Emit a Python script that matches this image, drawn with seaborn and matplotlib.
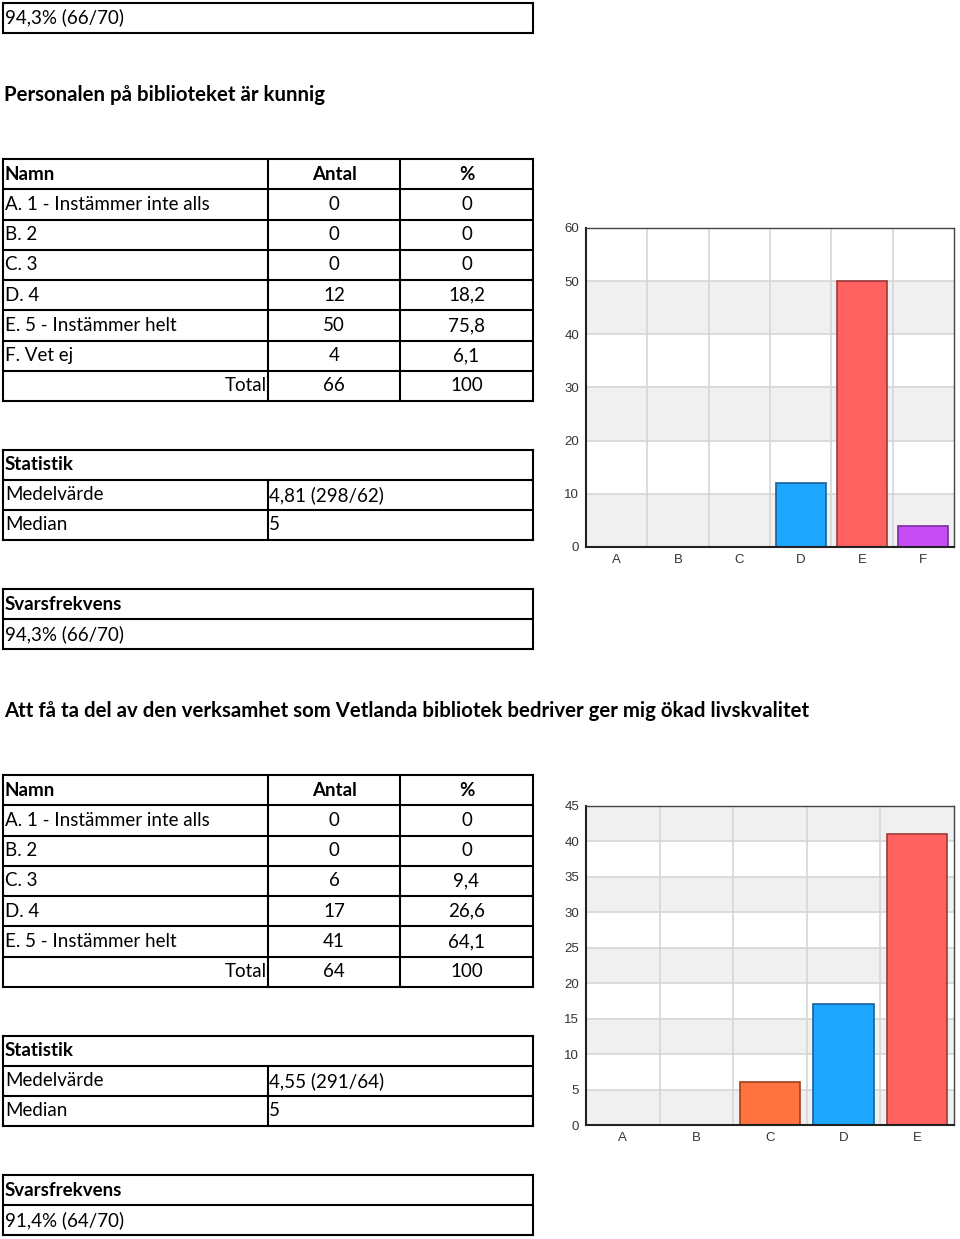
import matplotlib
matplotlib.use("Agg")
import matplotlib.pyplot as plt
import seaborn as sns
import numpy as np
import pandas as pd

# ---------------- data ----------------
top_rate = "94,3% (66/70)"

q1_title = "Personalen på biblioteket är kunnig"
q1_names = ["A. 1 - Instämmer inte alls", "B. 2", "C. 3", "D. 4", "E. 5 - Instämmer helt", "F. Vet ej"]
q1_counts = [0, 0, 0, 12, 50, 4]
q1_pct = ["0", "0", "0", "18,2", "75,8", "6,1"]
q1_total = ["66", "100"]
q1_mean = "4,81 (298/62)"
q1_median = "5"
q1_rate = "94,3% (66/70)"
q1_cats = ["A", "B", "C", "D", "E", "F"]
q1_colors = ["#ff7340", "#ff7340", "#ff7340", "#1ea7ff", "#ff6060", "#c64cf5"]
q1_edges = ["#a04020", "#a04020", "#a04020", "#1a5f9a", "#a03838", "#7a2ca0"]
q1_yticks = [0, 10, 20, 30, 40, 50, 60]

q2_title = "Att få ta del av den verksamhet som Vetlanda bibliotek bedriver ger mig ökad livskvalitet"
q2_names = ["A. 1 - Instämmer inte alls", "B. 2", "C. 3", "D. 4", "E. 5 - Instämmer helt"]
q2_counts = [0, 0, 6, 17, 41]
q2_pct = ["0", "0", "9,4", "26,6", "64,1"]
q2_total = ["64", "100"]
q2_mean = "4,55 (291/64)"
q2_median = "5"
q2_rate = "91,4% (64/70)"
q2_cats = ["A", "B", "C", "D", "E"]
q2_colors = ["#ff7340", "#ff7340", "#ff7340", "#1ea7ff", "#ff6060"]
q2_edges = ["#a04020", "#a04020", "#a04020", "#1a5f9a", "#a03838"]
q2_yticks = [0, 5, 10, 15, 20, 25, 30, 35, 40, 45]

# ---------------- figure ----------------
W, H = 960, 1239
sns.set_style("white")
plt.rcParams['font.family'] = ['Lato', 'DejaVu Sans']
fig = plt.figure(figsize=(W / 100, H / 100), dpi=100)
bg = fig.add_axes([0, 0, 1, 1])
bg.set_xlim(0, W)
bg.set_ylim(H, 0)
bg.axis("off")

FS = 13.5
TFS = 14.7
LW = 1.5
X0, X1, C1, C2 = 3, 533, 268, 400
NAMEX = 5


def hline(y, x0=X0, x1=X1):
    bg.plot([x0, x1], [y, y], color="black", lw=LW, solid_capstyle="projecting")


def vline(x, y0, y1):
    bg.plot([x, x], [y0, y1], color="black", lw=LW, solid_capstyle="projecting")


def txt(x, y, s, ha="left", bold=False, size=FS):
    bg.text(x, y, s, ha=ha, va="center", fontsize=size,
            fontweight="bold" if bold else "normal", color="black")


def box_rows(y0, y1, n):
    ys = np.linspace(y0, y1, n + 1)
    for y in ys:
        hline(y)
    vline(X0, y0, y1)
    vline(X1, y0, y1)
    return ys


def rate_table(y0, rate):
    ys = box_rows(y0, y0 + 60, 2)
    txt(NAMEX, (ys[0] + ys[1]) / 2, "Svarsfrekvens", bold=True)
    txt(NAMEX, (ys[1] + ys[2]) / 2, rate)


def main_table(y0, y1, names, counts, pcts, total):
    n = len(names) + 2
    ys = box_rows(y0, y1, n)
    vline(C1, y0, y1)
    vline(C2, y0, y1)
    mids = (ys[:-1] + ys[1:]) / 2
    txt(NAMEX, mids[0], "Namn", bold=True)
    txt((C1 + C2) / 2, mids[0], "Antal", ha="center", bold=True)
    txt((C2 + X1) / 2, mids[0], "%", ha="center", bold=True)
    for i, (nm, c, p) in enumerate(zip(names, counts, pcts)):
        txt(NAMEX, mids[i + 1], nm)
        txt((C1 + C2) / 2, mids[i + 1], str(c), ha="center")
        txt((C2 + X1) / 2, mids[i + 1], p, ha="center")
    txt(C1 - 1, mids[-1], "Total", ha="right")
    txt((C1 + C2) / 2, mids[-1], total[0], ha="center")
    txt((C2 + X1) / 2, mids[-1], total[1], ha="center")


def stat_table(y0, mean, median):
    ys = box_rows(y0, y0 + 90, 3)
    vline(C1, ys[1], ys[3])
    mids = (ys[:-1] + ys[1:]) / 2
    txt(NAMEX, mids[0], "Statistik", bold=True)
    txt(NAMEX, mids[1], "Medelvärde")
    txt(C1 + 1, mids[1], mean)
    txt(NAMEX, mids[2], "Median")
    txt(C1 + 1, mids[2], median)


def bar_chart(box, cats, counts, colors, edges, yticks):
    l, t, r, b = box
    ax = fig.add_axes([l / W, 1 - b / H, (r - l) / W, (b - t) / H])
    n = len(cats)
    df = pd.DataFrame({"cat": cats, "count": counts})
    ymax = yticks[-1]
    sns.barplot(data=df, x="cat", y="count", hue="cat", palette=colors,
                width=0.82, legend=False, ax=ax, zorder=2, saturation=1)
    for cont in ax.containers:
        for bar in cont:
            idx = int(round(bar.get_x() + bar.get_width() / 2))
            bar.set_edgecolor(edges[idx])
            bar.set_linewidth(1.2 if counts[idx] > 0 else 0)
    # alternating background bands
    for i in range(len(yticks) - 1):
        if i % 2 == 0:
            ax.axhspan(yticks[i], yticks[i + 1], color="#f0f0f0", zorder=0, lw=0)
    for y in yticks[1:-1]:
        ax.axhline(y, color="#d6d6d6", lw=1.2, zorder=0.5)
    for i in range(n - 1):
        ax.axvline(i + 0.5, color="#d6d6d6", lw=1.2, zorder=0.5)
    ax.set_xlim(-0.5, n - 0.5)
    ax.set_ylim(0, ymax)
    ax.set_yticks(yticks)
    ax.set_xticks(range(n))
    ax.set_xticklabels(cats)
    ax.set_xticks([i + 0.5 for i in range(n - 1)], minor=True)
    ax.tick_params(axis="x", which="major", length=0, pad=5,
                   labelsize=9.5, labelcolor="#333333")
    ax.tick_params(axis="x", which="minor", length=3, width=1.2, color="#333333")
    ax.tick_params(axis="y", length=3, width=1.0, color="#333333", pad=2,
                   labelsize=9.5, labelcolor="#333333")
    for lab in ax.get_xticklabels() + ax.get_yticklabels():
        lab.set_family("Liberation Sans")
    ax.set_xlabel("")
    ax.set_ylabel("")
    for s in ax.spines.values():
        s.set_visible(True)
        s.set_color("#444444")
        s.set_linewidth(1.0)
    ax.spines["left"].set_color("#222222")
    ax.spines["bottom"].set_color("#222222")
    ax.spines["left"].set_linewidth(1.5)
    ax.spines["bottom"].set_linewidth(1.5)
    return ax


# ---------------- top rate box ----------------
box_rows(3, 33, 1)
txt(NAMEX, 17, top_rate)

# ---------------- question 1 ----------------
txt(4, 95, q1_title, bold=True, size=TFS)
main_table(159, 401, q1_names, q1_counts, q1_pct, q1_total)
stat_table(450, q1_mean, q1_median)
rate_table(589, q1_rate)
bar_chart((586, 228, 954, 547), q1_cats, q1_counts, q1_colors, q1_edges, q1_yticks)

# ---------------- question 2 ----------------
txt(4, 711, q2_title, bold=True, size=TFS)
main_table(775, 987, q2_names, q2_counts, q2_pct, q2_total)
stat_table(1036, q2_mean, q2_median)
rate_table(1175, q2_rate)
bar_chart((586, 806, 954, 1125), q2_cats, q2_counts, q2_colors, q2_edges, q2_yticks)

fig.savefig("out.png", dpi=100, facecolor="white")
